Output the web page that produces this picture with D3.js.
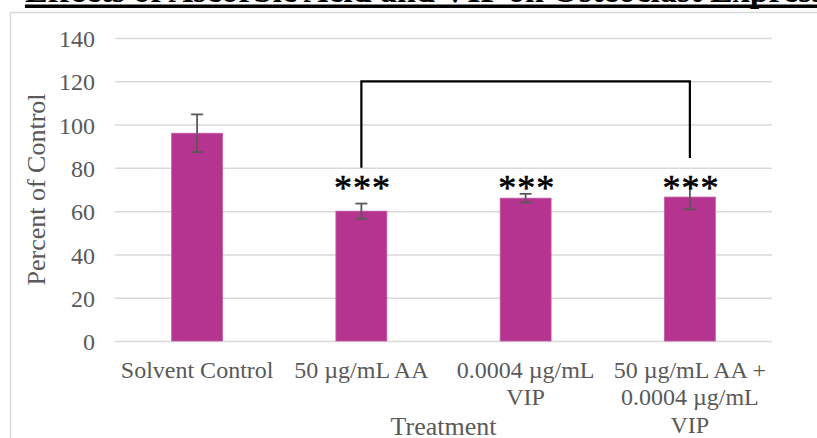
<!DOCTYPE html>
<html>
<head>
<meta charset="utf-8">
<title>Effects of Ascorbic Acid and VIP on Osteoclast Expression</title>
<script src="https://cdn.jsdelivr.net/npm/d3@7"></script>
<style>
	body { margin: 0; background: #fff; }
	svg text { font-family: "Liberation Serif", "Times New Roman", serif; }
</style>
</head>
<body>
<div id="chart"></div>
<script>
// chart data
var categories = [
	["Solvent Control"],
	["50 \u00b5g/mL AA"],
	["0.0004 \u00b5g/mL", "VIP"],
	["50 \u00b5g/mL AA +", "0.0004 \u00b5g/mL", "VIP"]
];
var means = [96, 60, 66, 66.5];
var errors = [8.7, 3.5, 2, 5.7];
var stars = ["", "***", "***", "***"];
var yTicks = [0, 20, 40, 60, 80, 100, 120, 140];
// bracket between bar 2 and bar 4: top level, left leg end, right leg end
var bracket = { from: 1, to: 3, top: 120, leftEnd: 80, rightEnd: 84.5 };
var starLevel = 65;

var W = 817, H = 438;
var plot = { left: 115, right: 772, top: 38, bottom: 341 };

var svg = d3.select("#chart").append("svg")
	.attr("width", W)
	.attr("height", H);

// cut-off title at the top
svg.append("text")
	.attr("x", 25)
	.attr("y", 2)
	.attr("font-size", 34)
	.attr("font-weight", "bold")
	.attr("fill", "#000")
	.text("Effects of Ascorbic Acid and VIP on Osteoclast Expression");
svg.append("rect")
	.attr("x", 25).attr("y", 4.5)
	.attr("width", W - 25).attr("height", 3.5)
	.attr("fill", "#000");

// chart frame
svg.append("path")
	.attr("d", "M10.5," + H + "V12.5H" + W)
	.attr("fill", "none")
	.attr("stroke", "#d9d9d9")
	.attr("stroke-width", 1.5);

var x = d3.scaleBand()
	.domain(d3.range(categories.length))
	.range([plot.left, plot.right])
	.padding(0);
var barW = x.bandwidth() * 0.31;
var cx = function(i) { return x(i) + x.bandwidth() / 2; };

var y = d3.scaleLinear()
	.domain([0, 140])
	.range([plot.bottom, plot.top]);

// gridlines + tick labels
var yAxis = d3.axisLeft(y)
	.tickValues(yTicks)
	.tickSize(-(plot.right - plot.left))
	.tickPadding(20);
var gy = svg.append("g")
	.attr("transform", "translate(" + plot.left + ",0)")
	.call(yAxis);
gy.select(".domain").remove();
gy.selectAll(".tick line")
	.attr("stroke", "#d9d9d9")
	.attr("stroke-width", 1.5);
gy.selectAll(".tick text")
	.attr("fill", "#595959")
	.attr("font-size", 24)
	.attr("font-family", "Liberation Serif")
	.attr("dy", "0.36em");

// bars
svg.selectAll(".bar")
	.data(means)
	.enter().append("rect")
	.attr("class", "bar")
	.attr("x", function(d, i) { return cx(i) - barW / 2; })
	.attr("y", function(d) { return y(d); })
	.attr("width", barW)
	.attr("height", function(d) { return y(0) - y(d); })
	.attr("fill", "#b5348f")
	.attr("stroke", "#c45ca3")
	.attr("stroke-width", 0.8);

// error bars
var eb = svg.selectAll(".err")
	.data(means)
	.enter().append("g")
	.attr("class", "err")
	.attr("stroke", "#595959")
	.attr("stroke-width", 1.8);
eb.append("line")
	.attr("x1", function(d, i) { return cx(i); })
	.attr("x2", function(d, i) { return cx(i); })
	.attr("y1", function(d, i) { return y(d + errors[i]); })
	.attr("y2", function(d, i) { return y(d - errors[i]); });
eb.append("line")
	.attr("x1", function(d, i) { return cx(i) - 6; })
	.attr("x2", function(d, i) { return cx(i) + 6; })
	.attr("y1", function(d, i) { return y(d + errors[i]); })
	.attr("y2", function(d, i) { return y(d + errors[i]); });
eb.append("line")
	.attr("x1", function(d, i) { return cx(i) - 6; })
	.attr("x2", function(d, i) { return cx(i) + 6; })
	.attr("y1", function(d, i) { return y(d - errors[i]); })
	.attr("y2", function(d, i) { return y(d - errors[i]); });

// bracket
svg.append("path")
	.attr("d", "M" + cx(bracket.from) + "," + y(bracket.leftEnd) +
		"V" + y(bracket.top) + "H" + cx(bracket.to) + "V" + y(bracket.rightEnd))
	.attr("fill", "none")
	.attr("stroke", "#000")
	.attr("stroke-width", 2.2);

// significance stars
svg.selectAll(".star")
	.data(stars)
	.enter().append("text")
	.attr("class", "star")
	.attr("x", function(d, i) { return cx(i) + 1; })
	.attr("y", y(starLevel))
	.attr("text-anchor", "middle")
	.attr("font-family", "DejaVu Sans")
	.attr("font-size", 36)
	.attr("letter-spacing", 1)
	.attr("fill", "#000")
	.attr("stroke", "#000")
	.attr("stroke-width", 0.6)
	.text(function(d) { return d; });

// category labels
var cat = svg.selectAll(".cat")
	.data(categories)
	.enter().append("text")
	.attr("class", "cat")
	.attr("text-anchor", "middle")
	.attr("fill", "#595959")
	.attr("font-size", 24);
cat.selectAll("tspan")
	.data(function(d, i) { return d.map(function(s) { return { s: s, i: i }; }); })
	.enter().append("tspan")
	.attr("x", function(d) { return cx(d.i); })
	.attr("y", function(d, j) { return 377.5 + j * 27.6; })
	.text(function(d) { return d.s; });

// axis titles
svg.append("text")
	.attr("x", (plot.left + plot.right) / 2)
	.attr("y", 435)
	.attr("text-anchor", "middle")
	.attr("fill", "#595959")
	.attr("font-size", 26)
	.text("Treatment");
svg.append("text")
	.attr("transform", "translate(45," + ((plot.top + plot.bottom) / 2) + ") rotate(-90)")
	.attr("text-anchor", "middle")
	.attr("fill", "#595959")
	.attr("font-size", 26)
	.text("Percent of Control");
</script>
</body>
</html>
